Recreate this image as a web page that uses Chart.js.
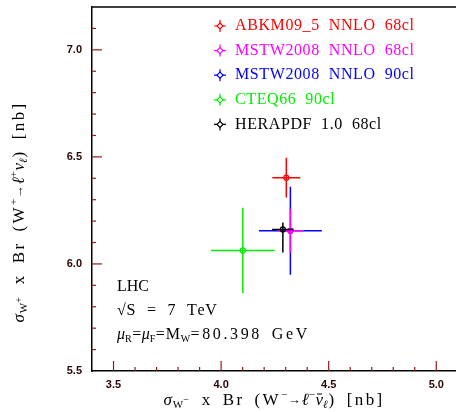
<!DOCTYPE html>
<html>
<head>
<meta charset="utf-8">
<script src="https://cdn.jsdelivr.net/npm/chart.js@4.4.0/dist/chart.umd.min.js"></script>
<style>
  html, body { margin: 0; padding: 0; overflow: hidden; background: #fff; }
  canvas { display: block; }
</style>
</head>
<body>
<canvas id="myChart" width="463" height="412"></canvas>
<script>
// W- and W+ cross sections (nb) with uncertainties
const seriesNames = ['ABKM09_5 NNLO 68cl', 'MSTW2008 NNLO 68cl', 'MSTW2008 NNLO 90cl', 'CTEQ66 90cl', 'HERAPDF 1.0 68cl'];
const seriesColors = ['#ff0000', '#ff00ff', '#0000ff', '#00ee00', '#000000'];
const sigmaWminus = [4.303, 4.322, 4.322, 4.101, 4.287];
const sigmaWminusErr = [0.065, 0.062, 0.146, 0.148, 0.05];
const sigmaWplus = [6.403, 6.155, 6.155, 6.063, 6.161];
const sigmaWplusErrUp = [0.093, 0.103, 0.205, 0.2, 0.033];
const sigmaWplusErrDown = [0.093, 0.103, 0.205, 0.2, 0.108];
const drawOrder = [1, 2, 3, 4, 0]; // lower = drawn on top

const xRange = [3.4, 5.1];
const yRange = [5.5, 7.2];
const tickStep = 0.1;

const infoLines = ['LHC', '\u221AS = 7 TeV'];

const TICK_COLOR = '#8b1c1c';
const LABEL_COLOR = '#2b0505';
const SERIF = '"Liberation Serif", "Times New Roman", serif';

const datasets = [];
seriesNames.forEach((name, i) => {
  const x = sigmaWminus[i], y = sigmaWplus[i];
  datasets.push({
    type: 'line',
    label: name,
    data: [
      { x: x - sigmaWminusErr[i], y: y },
      { x: x + sigmaWminusErr[i], y: y },
      { x: x, y: null },
      { x: x, y: y - sigmaWplusErrDown[i] },
      { x: x, y: y + sigmaWplusErrUp[i] }
    ],
    borderColor: seriesColors[i],
    borderWidth: 1.5,
    pointRadius: 0,
    spanGaps: false,
    fill: false,
    order: drawOrder[i] + 0.5
  });
  datasets.push({
    type: 'scatter',
    label: name + ' point',
    data: [{ x: x, y: y }],
    pointStyle: 'circle',
    pointRadius: 2.5,
    borderColor: seriesColors[i],
    backgroundColor: 'rgba(255,255,255,0)',
    borderWidth: 1.2,
    order: drawOrder[i]
  });
});

// draw text made of pieces (sub/superscripts, italics), with extra letter spacing
function richWidth(ctx, parts) {
  let w = 0;
  parts.forEach(p => {
    ctx.font = p.font;
    for (const ch of p.t) {
      w += (ch === ' ' ? (p.sp || 9) : ctx.measureText(ch).width + (p.ls || 0));
    }
  });
  return w;
}
function drawRich(ctx, parts, x, y) {
  let cx = x;
  parts.forEach(p => {
    ctx.font = p.font;
    const start = cx;
    for (const ch of p.t) {
      if (ch === ' ') { cx += (p.sp || 9); continue; }
      ctx.fillText(ch, cx, y + (p.dy || 0));
      cx += ctx.measureText(ch).width + (p.ls || 0);
    }
    if (p.bar) {
      ctx.save();
      ctx.lineWidth = 1;
      ctx.beginPath();
      ctx.moveTo(start + 1.5, y - 7);
      ctx.lineTo(cx - 1, y - 7);
      ctx.strokeStyle = ctx.fillStyle;
      ctx.stroke();
      ctx.restore();
    }
  });
}

const small = '10px ' + SERIF;
const tBase = '17px ' + SERIF, tItal = 'italic 17px ' + SERIF, tSmall = '11px ' + SERIF, tSmallI = 'italic 11px ' + SERIF;

function axisTitle(sign) {
  return [
    { t: '\u03C3', font: tItal, ls: 1 },
    { t: 'W', font: tSmall, dy: 4, ls: 0 },
    { t: sign, font: '10px ' + SERIF, dy: -1, ls: 3 },
    { t: ' x Br (W', font: tBase, ls: 2.4, sp: 10 },
    { t: sign, font: tSmall, dy: -6, ls: 0.5 },
    { t: '\u2192', font: '13px ' + SERIF, ls: 1 },
    { t: '\u2113', font: tItal, ls: 0 },
    { t: sign, font: tSmall, dy: -6, ls: 0.5 },
    { t: '\u03BD', font: tItal, ls: 0, bar: sign === '\u2212' },
    { t: '\u2113', font: tSmallI, dy: 4, ls: 1 },
    { t: ') [nb]', font: tBase, ls: 2.4, sp: 10 }
  ];
}

const muLine = [
  { t: '\u03BC', font: 'italic 16px ' + SERIF, ls: 0 },
  { t: 'R', font: small, dy: 4, ls: 0.5 },
  { t: '=', font: '16px ' + SERIF, ls: 0.5 },
  { t: '\u03BC', font: 'italic 16px ' + SERIF, ls: 0 },
  { t: 'F', font: small, dy: 4, ls: 0.5 },
  { t: '=M', font: '16px ' + SERIF, ls: 0.8 },
  { t: 'W', font: small, dy: 4, ls: 0.5 },
  { t: '=80.398 GeV', font: '16px ' + SERIF, ls: 2.6, sp: 10 }
];

const framePlugin = {
  id: 'framePlugin',
  afterDraw(chart) {
    const ctx = chart.ctx;
    const area = chart.chartArea;
    const xs = chart.scales.x, ys = chart.scales.y;
    ctx.save();
    // top frame line
    ctx.strokeStyle = '#000';
    ctx.lineWidth = 1.5;
    ctx.beginPath();
    ctx.moveTo(area.left, area.top);
    ctx.lineTo(area.right, area.top);
    ctx.stroke();

    // inward tick marks
    ctx.strokeStyle = TICK_COLOR;
    ctx.lineWidth = 1.2;
    const isMajor = v => Math.abs(v * 2 - Math.round(v * 2)) < 1e-6;
    xs.ticks.forEach(t => {
      const px = xs.getPixelForValue(t.value);
      if (px <= area.left + 1 || px >= area.right - 1) return;
      const len = isMajor(t.value) ? 10 : 4;
      ctx.beginPath();
      ctx.moveTo(px, area.bottom);
      ctx.lineTo(px, area.bottom - len);
      ctx.stroke();
    });
    ys.ticks.forEach(t => {
      const py = ys.getPixelForValue(t.value);
      if (py <= area.top + 1 || py >= area.bottom - 1) return;
      const len = isMajor(t.value) ? 10 : 4;
      ctx.beginPath();
      ctx.moveTo(area.left, py);
      ctx.lineTo(area.left + len, py);
      ctx.stroke();
    });

    // legend
    ctx.textBaseline = 'middle';
    ctx.textAlign = 'left';
    seriesNames.forEach((name, i) => {
      const ly = 26 + i * 24.6;
      const lx = 220;
      ctx.strokeStyle = seriesColors[i];
      ctx.fillStyle = seriesColors[i];
      ctx.lineWidth = 1.2;
      ctx.beginPath();
      ctx.moveTo(lx - 6, ly); ctx.lineTo(lx + 6, ly);
      ctx.moveTo(lx, ly - 6); ctx.lineTo(lx, ly + 6);
      ctx.stroke();
      ctx.beginPath();
      ctx.moveTo(lx, ly - 3); ctx.lineTo(lx + 3, ly); ctx.lineTo(lx, ly + 3); ctx.lineTo(lx - 3, ly); ctx.closePath();
      ctx.fillStyle = '#fff';
      ctx.fill();
      ctx.stroke();
      ctx.fillStyle = seriesColors[i];
      drawRich(ctx, [{ t: name, font: '16px ' + SERIF, ls: 0.6, sp: 9 }], 235, ly);
    });

    // info text
    ctx.fillStyle = '#000';
    drawRich(ctx, [{ t: infoLines[0], font: '16px ' + SERIF, ls: 0 }], 117, 287);
    drawRich(ctx, [{ t: infoLines[1], font: '16px ' + SERIF, ls: 0.6, sp: 11 }], 117, 311);
    drawRich(ctx, muLine, 117, 335);

    // axis titles
    const xt = axisTitle('\u2212');
    const xw = richWidth(ctx, xt);
    drawRich(ctx, xt, 274 - xw / 2, 401);
    const yt = axisTitle('+');
    const yw = richWidth(ctx, yt);
    ctx.translate(20, 212);
    ctx.rotate(-Math.PI / 2);
    drawRich(ctx, yt, -yw / 2, 0);
    ctx.restore();
  }
};

const tickLabel = v => (Math.abs(v * 2 - Math.round(v * 2)) < 1e-6 ? v.toFixed(1) : '');

const config = {
  type: 'scatter',
  data: { datasets: datasets },
  options: {
    responsive: false,
    animation: false,
    layout: { padding: { top: 7, right: 0, left: 0, bottom: 0 } },
    plugins: { legend: { display: false }, tooltip: { enabled: false } },
    scales: {
      x: {
        type: 'linear',
        min: xRange[0],
        max: xRange[1],
        afterFit: s => { s.height = 41; s.paddingLeft = 0; s.paddingRight = 0; },
        grid: { display: false, drawTicks: false },
        border: { display: true, color: '#000', width: 1.5 },
        ticks: {
          stepSize: tickStep,
          autoSkip: false,
          maxRotation: 0,
          padding: 7,
          color: LABEL_COLOR,
          font: { family: '"Liberation Sans", Arial, sans-serif', size: 11, weight: 'bold' },
          callback: tickLabel
        }
      },
      y: {
        type: 'linear',
        min: yRange[0],
        max: yRange[1],
        afterFit: s => { s.width = 92; s.paddingTop = 0; s.paddingBottom = 0; },
        grid: { display: false, drawTicks: false },
        border: { display: true, color: '#000', width: 1.5 },
        ticks: {
          stepSize: tickStep,
          autoSkip: false,
          padding: 10,
          color: LABEL_COLOR,
          font: { family: '"Liberation Sans", Arial, sans-serif', size: 11, weight: 'bold' },
          callback: tickLabel
        }
      }
    }
  },
  plugins: [framePlugin]
};

var myChart = new Chart(document.getElementById('myChart'), config);
</script>
</body>
</html>
